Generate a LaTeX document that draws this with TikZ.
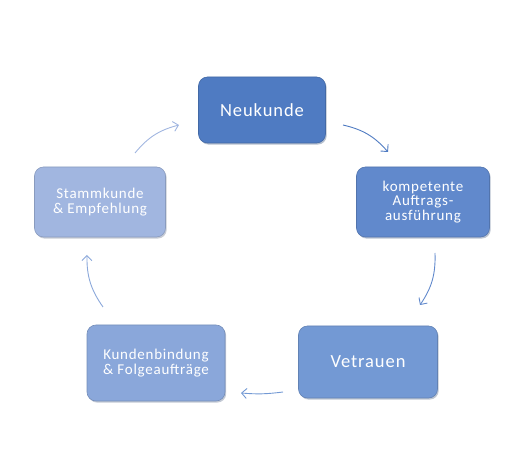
\documentclass[tikz,border=0pt]{standalone}
\usepackage{fontspec}
\setmainfont{Carlito}
\usetikzlibrary{arrows.meta,shadows}
\definecolor{cA}{HTML}{4F7BC2}
\definecolor{cB}{HTML}{6189CC}
\definecolor{cC}{HTML}{7399D4}
\definecolor{cD}{HTML}{8AA7DA}
\definecolor{cE}{HTML}{A1B6E0}
\tikzset{
  box/.style={rounded corners=9pt, inner sep=0pt, align=center, text=white,
    draw=#1!85!black, line width=0.6pt, fill=#1,
    drop shadow={shadow xshift=1.2pt, shadow yshift=-1.6pt, opacity=0.35, fill=#1!60!black}},
  conn/.style={-{Straight Barb[length=5pt,width=10pt]}, line width=0.9pt, draw=#1, bend left=18},
  big/.style={font=\fontsize{18.5}{20}\selectfont\addfontfeatures{LetterSpace=5}},
  small/.style={font=\fontsize{15}{14.8}\selectfont\addfontfeatures{LetterSpace=5}},
}
\begin{document}
\begin{tikzpicture}[x=1pt,y=1pt]
\useasboundingbox (0,0) rectangle (520,453);
% nodes (y = 453 - pixel y)
\node[box=cA, big, minimum width=127pt, minimum height=66pt] (neu) at (262,343) {Neukunde};
\node[box=cB, small, minimum width=133pt, minimum height=70pt] (komp) at (423,251) {kompetente\\Auftrags-\\ausführung};
\node[box=cC, big, minimum width=139pt, minimum height=72pt] (vet) at (368,91) {Vetrauen};
\node[box=cD, small, minimum width=138pt, minimum height=76pt] (kund) at (156,90) {Kundenbindung\\\& Folgeaufträge};
\node[box=cE, small, minimum width=131pt, minimum height=70pt] (stamm) at (100,251) {Stammkunde\\\& Empfehlung};
% arrow end points
\coordinate (a1s) at (343,328); \coordinate (a1e) at (388,301);
\coordinate (a2s) at (435,200); \coordinate (a2e) at (420,148);
\coordinate (a3s) at (283,61);  \coordinate (a3e) at (241,60);
\coordinate (a4s) at (103,146); \coordinate (a4e) at (87,198);
\coordinate (a5s) at (135,300); \coordinate (a5e) at (179,328);
\draw[conn=cA] (a1s) to (a1e);
\draw[conn=cB] (a2s) to (a2e);
\draw[conn=cC, bend left=6] (a3s) to (a3e);
\draw[conn=cD] (a4s) to (a4e);
\draw[conn=cE] (a5s) to (a5e);
\end{tikzpicture}
\end{document}
